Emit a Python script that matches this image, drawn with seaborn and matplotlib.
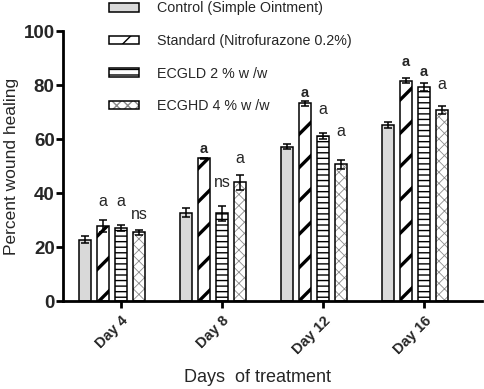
import numpy as np
import pandas as pd
import matplotlib
matplotlib.use("Agg")
import matplotlib.pyplot as plt
import seaborn as sns

days = ["Day 4", "Day 8", "Day 12", "Day 16"]
groups = ["Control (Simple Ointment)", "Standard (Nitrofurazone 0.2%)",
          "ECGLD 2 % w /w", "ECGHD 4 % w /w"]
control = [22.6, 32.7, 57.2, 65.3]
standard = [27.8, 52.8, 73.2, 81.6]
ecgld = [27.0, 32.5, 61.2, 79.1]
ecghd = [25.5, 43.9, 50.7, 70.7]
control_err = [1.3, 1.6, 1.0, 1.1]
standard_err = [2.2, 0.3, 1.0, 0.9]
ecgld_err = [1.0, 2.8, 1.1, 1.5]
ecghd_err = [0.9, 2.7, 1.7, 1.6]
# significance labels per group (rows) and day (cols)
sig_labels = [["", "", "", ""],
              ["a", "a", "a", "a"],
              ["a", "ns", "a", "a"],
              ["ns", "a", "a", "a"]]
sig_heights = [[0, 0, 0, 0],
               [36.8, 56.3, 77.0, 88.6],
               [36.8, 43.7, 70.7, 85.0],
               [31.9, 52.6, 62.6, 80.0]]
sig_bold = [[False] * 4,
            [False, True, True, True],
            [False, False, False, True],
            [False] * 4]

values = [control, standard, ecgld, ecghd]
errors = [control_err, standard_err, ecgld_err, ecghd_err]

df = pd.DataFrame({
    "day": np.tile(days, len(groups)),
    "group": np.repeat(groups, len(days)),
    "value": np.concatenate(values),
})

sns.set_style("ticks")
plt.rcParams["font.family"] = ["Liberation Sans", "DejaVu Sans"]
plt.rcParams["hatch.linewidth"] = 1.0

fig = plt.figure(figsize=(4.84, 3.89), dpi=100)
ax = fig.add_axes([63 / 484, 1 - 301 / 389, 419 / 484, 270 / 389])

palette = ["#d9d9d9", "white", "white", "white"]
W = 0.713
sns.barplot(data=df, x="day", y="value", hue="group", order=days,
            hue_order=groups, palette=palette, edgecolor="black",
            linewidth=1.1, width=W, gap=0.35, errorbar=None, ax=ax,
            legend=False)

hatches = [None, "/", "---", "xxx"]
hatch_lw = [1.0, 2.4, 1.0, 0.6]
hatch_col = [None, None, None, (0.55, 0.55, 0.55, 1.0)]
bar_containers = list(ax.containers)
for gi, cont in enumerate(bar_containers):
    for bi, p in enumerate(cont.patches):
        if hatches[gi]:
            p.set_hatch(hatches[gi])
        try:
            p.set_hatch_linewidth(hatch_lw[gi])
        except AttributeError:
            p._hatch_linewidth = hatch_lw[gi]
        if hatch_col[gi] is not None:
            p._hatch_color = hatch_col[gi]
        cx = p.get_x() + p.get_width() / 2
        ax.errorbar(cx, p.get_height(), yerr=errors[gi][bi], color="black",
                    capsize=3.2, elinewidth=1.1, capthick=1.1, zorder=5)
        lab = sig_labels[gi][bi]
        if lab:
            ax.text(cx, sig_heights[gi][bi] - 1.6, lab, ha="center",
                    va="baseline",
                    fontsize=10.5 if sig_bold[gi][bi] else 11.5,
                    fontweight="bold" if sig_bold[gi][bi] else "normal")

ax.set_ylim(0, 100)
ax.set_yticks([0, 20, 40, 60, 80, 100])
ax.set_xlim(W / 8 - 0.574, 3 + W / 8 + 0.574)
ax.set_xticks(np.arange(len(days)) + W / 8)
ax.set_xticklabels(days, rotation=45, ha="right", va="top",
                   rotation_mode="anchor", fontsize=10.5, fontweight="bold")
for t in ax.get_yticklabels():
    t.set_fontsize(13.5)
    t.set_fontweight("bold")
ax.tick_params(axis="both", direction="out", length=5, width=2, color="black")
ax.tick_params(axis="y", pad=1)
ax.tick_params(axis="x", pad=4)
sns.despine(ax=ax)
for s in ["left", "bottom"]:
    ax.spines[s].set_linewidth(2)
    ax.spines[s].set_color("black")

ax.set_ylabel("Percent wound healing", fontsize=12.5)
ax.set_xlabel("Days  of treatment", fontsize=13)
ax.xaxis.set_label_coords(0.465, -0.25)
ax.yaxis.set_label_coords(-0.105, 0.5)

handles = [c.patches[0] for c in bar_containers]
fig.legend(handles, groups, loc="upper left", bbox_to_anchor=(108 / 484, 1.0),
           frameon=False, fontsize=10.3, borderpad=0.1, handlelength=2.1,
           handleheight=0.55, handletextpad=1.2, labelspacing=1.3,
           borderaxespad=0)

fig.savefig("out.png", dpi=100)
